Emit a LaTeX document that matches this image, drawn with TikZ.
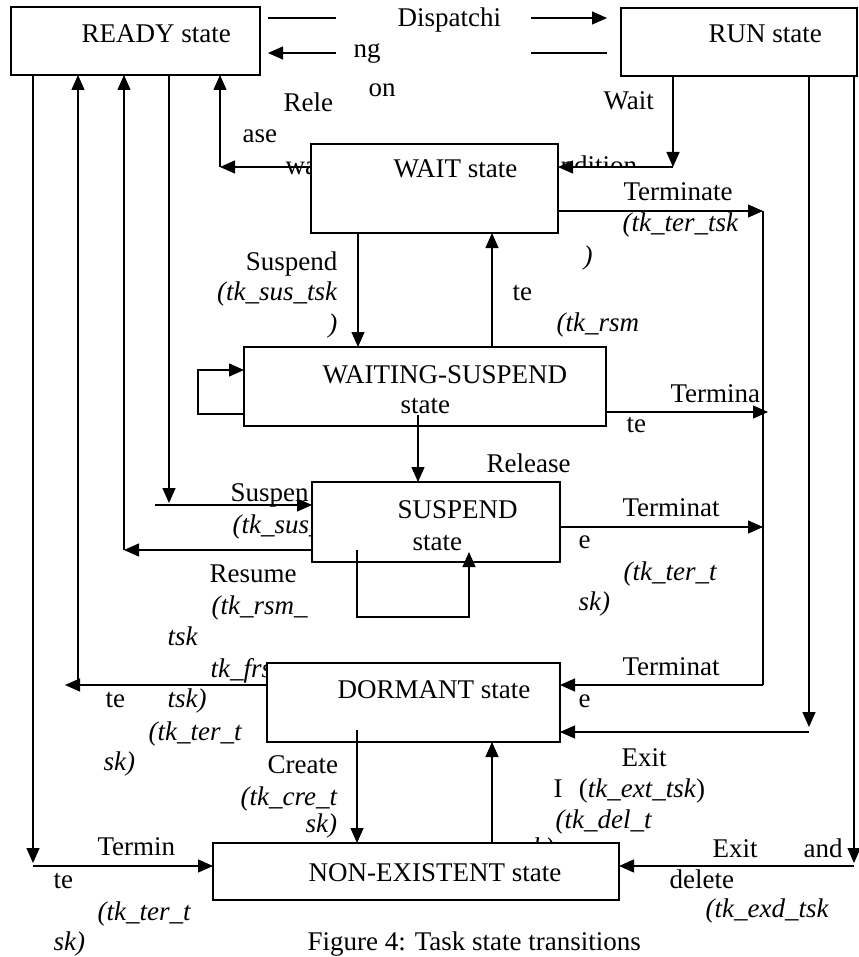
\documentclass[tikz,border=0pt]{standalone}
\usepackage{fontspec}
\setmainfont{Liberation Serif}
\usetikzlibrary{arrows.meta,calc}
\begin{document}
\begin{tikzpicture}[x=0.5pt,y=-0.5pt,line width=0.6pt,
  font=\fontsize{13.5}{17}\selectfont,
  >={Triangle[length=7.5pt,width=6.5pt]},
  etat/.style={draw,fill=white,line width=0.75pt,inner sep=0pt,outer sep=0pt},
  txt/.style={anchor=base west,inner sep=0pt},
  txtd/.style={anchor=base east,inner sep=0pt}]
  \useasboundingbox (0,0) rectangle (858,957);

  % Etiquettes (en partie cachees par les boites)
  \node[txt] (dispa) at (397,27) {Dispatchi};
  \node[txt] (dispb) at (353,58) {ng};
  \node[txt] (preem) at (368,97) {on};
  \node[txt] (rela) at (283,112) {Rele};
  \node[txt] (relb) at (242,143) {ase};
  \node[txt] (relc) at (285,175) {wa};
  \begin{scope}
    \clip (550,140) rectangle (680,166);
    \node[txt] (reld) at (560,175) {ndition};
  \end{scope}
  \node[txt] (waitl) at (603,110) {Wait};
  \node[txt] (terwa) at (623,200) {Terminate};
  \node[txt] (terwb) at (622,231) {\textit{(tk\_ter\_tsk}};
  \node[txt] (terwc) at (583,264) {\textit{)}};
  \node[txtd] (susa) at (338,270) {Suspend};
  \node[txtd] (susb) at (338,300) {\textit{(tk\_sus\_tsk}};
  \node[txtd] (susc) at (338,332) {\textit{)}};
  \node[txt] (rsma) at (512,300) {te};
  \node[txt] (rsmb) at (556,331) {\textit{(tk\_rsm}};
  \node[txt] (terxa) at (670,402) {Termina};
  \node[txt] (terxb) at (626,432) {te};
  \node[txt] (relsus) at (486,472) {Release};
  \node[txt] (susra) at (230,501) {Suspen};
  \node[txt] (susrb) at (232,533) {\textit{(tk\_sus\_}};
  \node[txt] (rsra) at (209,582) {Resume};
  \node[txt] (rsrb) at (211,614) {\textit{(tk\_rsm\_}};
  \node[txt] (rsrc) at (167,645) {\textit{tsk}};
  \node[txt] (frsa) at (210,677) {\textit{tk\_frs}};
  \node[txt] (terda) at (105,707) {te};
  \node[txt] (frsb) at (167,707) {\textit{tsk)}};
  \node[txt] (terdb) at (148,740) {\textit{(tk\_ter\_t}};
  \node[txt] (terdc) at (103,770) {\textit{sk)}};
  \node[txt] (crea) at (267,773) {Create};
  \node[txt] (creb) at (240,805) {\textit{(tk\_cre\_t}};
  \node[txt] (crec) at (305,832) {\textit{sk)}};
  \node[txt] (tersa) at (622,516) {Terminat};
  \node[txt] (tersb) at (578,548) {e};
  \node[txt] (tersc) at (623,580) {\textit{(tk\_ter\_t}};
  \node[txt] (tersd) at (578,610) {\textit{sk)}};
  \node[txt] (terma) at (622,675) {Terminat};
  \node[txt] (termb) at (578,707) {e};
  \node[txt] (exta) at (621,766) {Exit};
  \node[txt] (extb) at (553,797) {I\hspace{0.6em}(\textit{tk\_ext\_tsk})};
  \node[txt] (dela) at (555,828) {\textit{(tk\_del\_t}};
  \node[txt] (delb) at (522,856) {\textit{sk)}};
  \node[txt] (exda) at (712,857) {Exit};
  \node[txt] (exdb) at (803,857) {and};
  \node[txt] (exdc) at (669,888) {delete};
  \node[txt] (exdd) at (705,917) {\textit{(tk\_exd\_tsk}};
  \node[txt] (tera) at (97,855) {Termin};
  \node[txt] (terb) at (53,888) {te};
  \node[txt] (terc) at (97,920) {\textit{(tk\_ter\_t}};
  \node[txt] (terd) at (53,950) {\textit{sk)}};
  \node[txt] (caption) at (307,950) {Figure 4: Task state transitions};

  % Etats
  \node[etat,minimum width=124.5pt,minimum height=34pt] (ready) at (135.5,41) {};
  \node[etat,minimum width=118pt,minimum height=34pt] (run) at (739,42) {};
  \node[etat,minimum width=123.5pt,minimum height=44.5pt] (wait) at (434.5,188.5) {};
  \node[etat,minimum width=181pt,minimum height=39.5pt] (waitsusp) at (425,386.5) {};
  \node[etat,minimum width=124pt,minimum height=40pt] (suspend) at (436,522) {};
  \node[etat,minimum width=146.5pt,minimum height=39.5pt] (dormant) at (413.5,702.5) {};
  \node[etat,minimum width=203pt,minimum height=28.5pt] (nonexist) at (416,871.5) {};
  \node[txt] (readyt) at (81,43) {READY state};
  \node[txt] (runt) at (708,43) {RUN state};
  \node[txt] (waitt) at (393,178) {WAIT state};
  \node[txt] (waitsuspt) at (322,383) {WAITING-SUSPEND};
  \node[txt] (waitsuspu) at (400,413) {state};
  \node[txt] (suspendt) at (397,518) {SUSPEND};
  \node[txt] (suspendu) at (412,550) {state};
  \node[txt] (dormantt) at (337,698) {DORMANT state};
  \node[txt] (nonexistt) at (308,881) {NON-EXISTENT state};

  % Dispatching / preemption
  \draw ($(ready.east|-0,18)+(8,0)$) -- (336,18);
  \draw[->] (531,18) -- ($(run.west|-0,18)+(-14,0)$);
  \draw ($(run.west|-0,53)+(-14,0)$) -- (531,53);
  \draw[->] (336,53) -- ($(ready.east|-0,53)+(8,0)$);

  % Wait et liberation
  \draw[->] (run.south-|673,0) -- (673,167);
  \draw[->] (673,167) -- (wait.east|-0,167);
  \draw[->] (wait.west|-0,167) -- (220,167);
  \draw[->] (220,167) -- (ready.south-|220,0);

  % Suspend / resume
  \draw[->] (wait.south-|358,0) -- (waitsusp.north-|358,0);
  \draw[->] (waitsusp.north-|492,0) -- (wait.south-|492,0);
  \draw[->] (waitsusp.west|-0,414) -| (198,370) -- (waitsusp.west|-0,370);
  \draw[->] ($(waitsusp.south-|418,0)+(0,-11)$) -- (suspend.north-|418,0);
  \draw[->] (ready.south-|169,0) -- (169,503);
  \draw[->] (155,505) -- (suspend.west|-0,505);
  \draw[->] (suspend.west|-0,550) -- (124,550);
  \draw[->] (124,550) -- (ready.south-|124,0);
  \draw[->] ($(suspend.south-|357,0)+(0,-12)$) |- (469,617) -- ($(suspend.south-|469,0)+(0,-10)$);

  % Terminate vers DORMANT
  \draw[->] (wait.east|-0,211) -- (763,211);
  \draw[->] (waitsusp.east|-0,412) -- (768,412);
  \draw[->] (suspend.east|-0,527) -- (763,527);
  \draw (763,211) -- (763,685);
  \draw[->] (763,685) -- (dormant.east|-0,685);
  \draw[->] (dormant.west|-0,685) -- (65,685);
  \draw[->] (78,685) -- (ready.south-|78,0);

  % Exit, create, delete
  \draw[->] (run.south-|809,0) -- (809,727);
  \draw[->] (809,732) -- (dormant.east|-0,732);
  \draw[->] ($(dormant.south-|357,0)+(0,-12)$) -- (nonexist.north-|357,0);
  \draw[->] (nonexist.north-|492,0) -- (dormant.south-|492,0);
  \draw[->] (run.south-|854,0) -- (854,863);
  \draw[->] (854,866) -- (nonexist.east|-0,866);
  \draw[->] (ready.south-|33,0) -- (33,863);
  \draw[->] (33,866) -- (nonexist.west|-0,866);
\end{tikzpicture}
\end{document}
